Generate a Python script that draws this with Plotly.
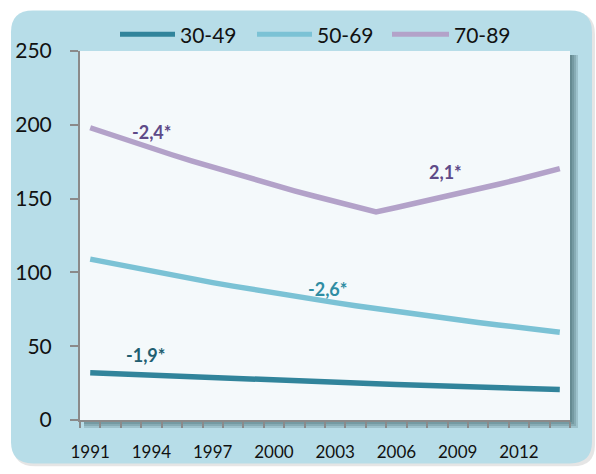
import plotly.graph_objects as go

years = list(range(1991, 2015))
age_30_49 = [32.0, 31.4, 30.8, 30.2, 29.6, 29.1, 28.5, 28.0, 27.5, 26.9, 26.4, 25.9,
             25.4, 25.0, 24.5, 24.0, 23.6, 23.1, 22.7, 22.3, 21.9, 21.4, 21.0, 20.6]
age_50_69 = [109.0, 106.2, 103.4, 100.7, 98.1, 95.6, 93.1, 90.7, 88.3, 86.0, 83.8, 81.6,
             79.5, 77.4, 75.4, 73.4, 71.5, 69.7, 67.9, 66.1, 64.4, 62.7, 61.1, 59.5]
age_70_89 = [198.0, 193.2, 188.6, 184.1, 179.7, 175.4, 171.2, 167.1, 163.1, 159.2, 155.3, 151.6,
             148.0, 144.4, 141.0, 144.0, 147.0, 150.1, 153.2, 156.4, 159.7, 163.1, 166.6, 170.3]
series_names = ["30-49", "50-69", "70-89"]
series_colors = ["#31849B", "#7BC2D5", "#B3A2C9"]

apc_labels = ["-1,9*", "-2,6*", "-2,4*", "2,1*"]
apc_x = [1993.7, 2002.6, 1994.0, 2008.4]
apc_y = [44, 89, 195, 168]
apc_colors = ["#215E70", "#2F8DA3", "#5E4A88", "#5E4A88"]

y_ticks = [0, 50, 100, 150, 200, 250]
x_ticks = [1991, 1994, 1997, 2000, 2003, 2006, 2009, 2012]

W, H = 596, 474
L, R, T, B = 80, 570, 51, 425
FONT = "Lato"


def px(x):
    return (x - L) / (R - L)


def py(y):
    return (B - y) / (B - T)


def rounded_rect(x0, y0, x1, y1, r):
    pts = [
        f"M {px(x0 + r)},{py(y0)}",
        f"L {px(x1 - r)},{py(y0)}",
        f"Q {px(x1)},{py(y0)} {px(x1)},{py(y0 + r)}",
        f"L {px(x1)},{py(y1 - r)}",
        f"Q {px(x1)},{py(y1)} {px(x1 - r)},{py(y1)}",
        f"L {px(x0 + r)},{py(y1)}",
        f"Q {px(x0)},{py(y1)} {px(x0)},{py(y1 - r)}",
        f"L {px(x0)},{py(y0 + r)}",
        f"Q {px(x0)},{py(y0)} {px(x0 + r)},{py(y0)}",
        "Z",
    ]
    return " ".join(pts)


fig = go.Figure()
for name, vals, col in zip(series_names, [age_30_49, age_50_69, age_70_89], series_colors):
    fig.add_trace(go.Scatter(x=years, y=vals, mode="lines", name=name,
                             line=dict(color=col, width=5.5), showlegend=False))

shapes = []
# panel shadow + panel
shapes.append(dict(type="path", xref="paper", yref="paper", layer="below",
                   path=rounded_rect(13, 12, 595, 472, 22),
                   fillcolor="rgba(0,0,0,0.10)", line=dict(width=0)))
shapes.append(dict(type="path", xref="paper", yref="paper", layer="below",
                   path=rounded_rect(11, 10, 592, 469, 22),
                   fillcolor="#B7DDE8", line=dict(width=0)))
# plot area shadow
for d in [8, 6, 4, 2]:
    shapes.append(dict(type="rect", xref="paper", yref="paper", layer="below",
                       x0=px(L + 4), x1=px(R + d), y0=py(B + d), y1=py(T + 4),
                       fillcolor="rgba(40,70,80,0.18)", line=dict(width=0)))
shapes.append(dict(type="rect", xref="paper", yref="paper", layer="below",
                   x0=0, x1=1, y0=0, y1=1, fillcolor="#F4F9FB", line=dict(width=0)))

# custom legend
legend_lines = [(120, 175), (257, 312), (392, 449)]
annotations = []
for (x0, x1), name, col in zip(legend_lines, series_names, series_colors):
    shapes.append(dict(type="line", xref="paper", yref="paper",
                       x0=px(x0), x1=px(x1), y0=py(34), y1=py(34),
                       line=dict(color=col, width=5)))
    annotations.append(dict(xref="paper", yref="paper", x=px(x1 + 3), y=py(34),
                            xanchor="left", yanchor="middle", text=name, showarrow=False,
                            font=dict(family=FONT, size=21, color="#111111")))

for t, x, y, c in zip(apc_labels, apc_x, apc_y, apc_colors):
    annotations.append(dict(x=x, y=y, xref="x", yref="y", text=f"<b>{t}</b>",
                            showarrow=False, font=dict(family=FONT, size=18, color=c)))

fig.update_layout(
    width=W, height=H,
    margin=dict(l=L, r=W - R, t=T, b=H - B, pad=0),
    paper_bgcolor="white",
    plot_bgcolor="rgba(0,0,0,0)",
    shapes=shapes,
    annotations=annotations,
    showlegend=False,
    xaxis=dict(range=[1990.5, 2014.5], tickvals=x_ticks, ticktext=[str(v) for v in x_ticks],
               ticks="", showgrid=False, zeroline=False, showline=True,
               linecolor="#8A8A8A", linewidth=2,
               tickfont=dict(family=FONT, size=17, color="#111111"),
               ticklabelstandoff=16,
               minor=dict(ticks="outside", tick0=1990.5, dtick=1, ticklen=6,
                          tickcolor="#8A8A8A", tickwidth=1.5, showgrid=False)),
    yaxis=dict(range=[0, 250], tickvals=y_ticks, ticks="outside", ticklen=8,
               tickcolor="#8A8A8A", tickwidth=1.5, showgrid=False, zeroline=False,
               showline=True, linecolor="#8A8A8A", linewidth=2,
               tickfont=dict(family=FONT, size=21, color="#111111"),
               ticklabelstandoff=14),
)

fig.write_html("out.html", config={"displayModeBar": False},
               post_script="document.body.style.margin='0';")
